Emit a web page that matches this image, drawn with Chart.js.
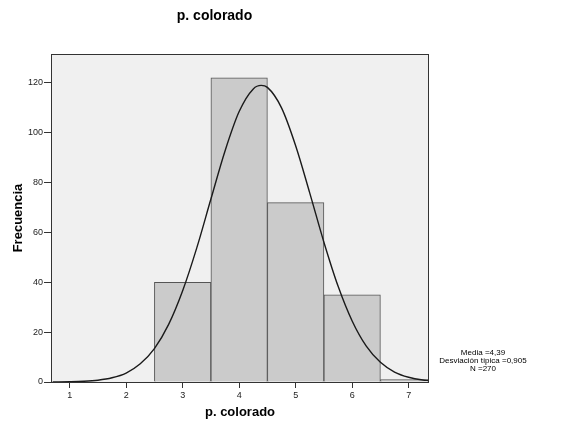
<!DOCTYPE html>
<html>
<head>
<meta charset="utf-8">
<script src="https://cdn.jsdelivr.net/npm/chart.js"></script>
<style>
  html, body { margin: 0; padding: 0; background: #fff; }
  #wrap { width: 561px; height: 426px; }
</style>
</head>
<body>
<div id="wrap"><canvas id="hist" width="561" height="426"></canvas></div>
<script>
// histogram bins (centre of each bar) and counts
const binCentres = [3, 4, 5, 6, 7]
const counts = [40, 122, 72, 35, 1]

// normal curve
const curveX = [0.7, 1.0, 1.25, 1.5, 1.75, 2.0, 2.25, 2.5, 2.75, 3.0, 3.25, 3.5, 3.75, 4.0, 4.25, 4.39,
  4.5, 4.75, 5.0, 5.25, 5.5, 5.75, 6.0, 6.25, 6.5, 6.75, 7.0, 7.25, 7.35]
const curveY = [0.03, 0.11, 0.29, 0.73, 1.7, 3.6, 7.3, 13.4, 23.0, 36.6, 53.8, 73.4, 92.7, 108.5, 117.6, 119.0,
  118.2, 110.0, 94.8, 75.8, 56.1, 38.5, 24.5, 14.4, 7.9, 4.0, 1.9, 0.8, 0.6]

const xTicks = [1, 2, 3, 4, 5, 6, 7]
const yTicks = [0, 20, 40, 60, 80, 100, 120]

const statsLines = ['Media =4,39', 'Desviación típica =0,905', 'N =270']

const FONT = 'Arial, "Liberation Sans", sans-serif'

const frame = {
  id: 'frame',
  beforeDatasetsDraw(chart) {
    const { ctx, chartArea: a } = chart
    ctx.save()
    ctx.fillStyle = '#f0f0f0'
    ctx.fillRect(a.left, a.top, a.right - a.left, a.bottom - a.top)
    ctx.restore()
  },
  afterDraw(chart) {
    const { ctx, chartArea: a } = chart
    ctx.save()
    ctx.strokeStyle = '#333'
    ctx.lineWidth = 1
    ctx.strokeRect(a.left + 0.5, a.top + 0.5, a.right - a.left - 1, a.bottom - a.top)
    // stats box text
    ctx.fillStyle = '#000'
    ctx.font = '8px ' + FONT
    ctx.textAlign = 'center'
    ctx.textBaseline = 'middle'
    statsLines.forEach((t, i) => ctx.fillText(t, 483, 353 + i * 8))
    ctx.restore()
  }
}

const rows = binCentres.map((x, i) => ({ x, y: counts[i] }))
const curve = curveX.map((x, i) => ({ x, y: curveY[i] }))

/* eslint-disable no-new */
new Chart(document.getElementById('hist'), {
  type: 'bar',
  data: {
    datasets: [
      {
        type: 'line',
        data: curve,
        borderColor: '#1a1a1a',
        borderWidth: 1.4,
        pointRadius: 0,
        cubicInterpolationMode: 'monotone',
        fill: false,
        clip: 0,
        order: 0
      },
      {
        type: 'bar',
        data: rows,
        backgroundColor: '#cbcbcb',
        borderColor: '#555',
        borderWidth: 1,
        barPercentage: 1,
        categoryPercentage: 1,
        clip: 0,
        order: 1
      }
    ]
  },
  options: {
    responsive: false,
    animation: false,
    layout: { padding: { left: 0, right: 132, top: 0, bottom: 0 } },
    plugins: {
      legend: { display: false },
      tooltip: { enabled: false },
      title: {
        display: true,
        text: 'p. colorado',
        color: '#000',
        font: { family: FONT, size: 14, weight: 'bold' },
        padding: { top: 8, bottom: 29.2 }
      }
    },
    scales: {
      x: {
        type: 'linear',
        min: 0.67,
        max: 7.36,
        offset: false,
        afterBuildTicks(scale) { scale.ticks = xTicks.map(v => ({ value: v })) },
        afterFit(scale) { scale.height = 44 },
        grid: { drawOnChartArea: false, offset: false, tickLength: 6, color: '#333' },
        border: { display: false },
        ticks: { color: '#222', font: { family: FONT, size: 9 }, padding: 2, maxRotation: 0 },
        title: {
          display: true,
          text: 'p. colorado',
          color: '#000',
          font: { family: FONT, size: 13, weight: 'bold' },
          padding: { top: 0, bottom: 6 }
        }
      },
      y: {
        min: 0,
        max: 131.6,
        afterBuildTicks(scale) { scale.ticks = yTicks.map(v => ({ value: v })) },
        afterFit(scale) { scale.width = 51 },
        grid: { drawOnChartArea: false, tickLength: 7, color: '#333' },
        border: { display: false },
        ticks: { color: '#222', font: { family: FONT, size: 9 }, padding: 1 },
        title: {
          display: true,
          text: 'Frecuencia',
          color: '#000',
          font: { family: FONT, size: 13, weight: 'bold' },
          padding: { top: 10.5, bottom: 0 }
        }
      }
    }
  },
  plugins: [frame]
})
</script>
</body>
</html>
